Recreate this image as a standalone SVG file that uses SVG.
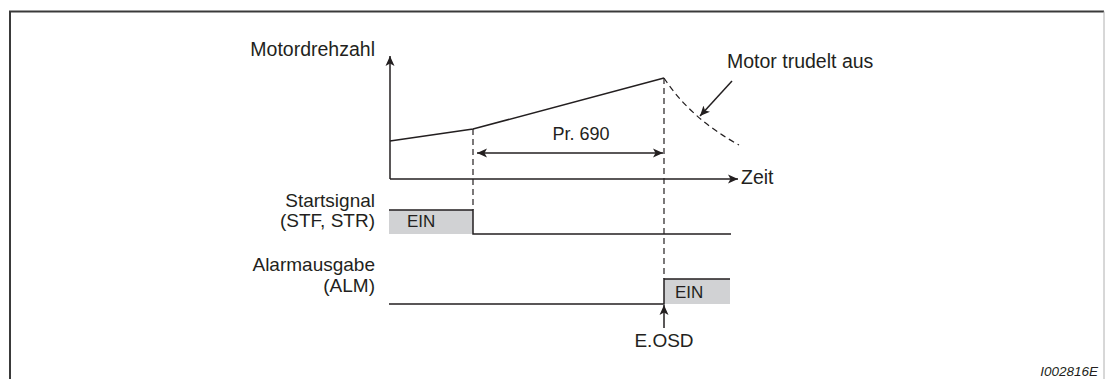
<svg xmlns="http://www.w3.org/2000/svg" width="1105" height="379" viewBox="0 0 1105 379">
<style>
.t{font-family:"Liberation Sans",Arial,sans-serif;fill:#231f20}
.ln{stroke:#231f20;stroke-width:1.5;fill:none}
.ds{stroke:#231f20;stroke-width:1.2;fill:none;stroke-dasharray:6 4}
.sh{fill:#d1d2d4;stroke:none}
</style>
<defs>
<marker id="ah" viewBox="0 0 10 10" refX="10" refY="5" markerWidth="10" markerHeight="10" markerUnits="userSpaceOnUse" orient="auto-start-reverse">
<path d="M0,0.5 L10,5 L0,9.5 L2.5,5 Z" fill="#231f20"/>
</marker>
</defs>
<rect width="1105" height="379" fill="#fff"/>
<g id="frame">
<path d="M10,379 V11.5 H1104" stroke="#3a3a3a" stroke-width="2" fill="none"/>
<path d="M1104,11.5 V379" stroke="#b0b0b0" stroke-width="1" fill="none"/>
</g>
<g id="axes">
<path class="ln" d="M390,179 V56" marker-end="url(#ah)"/>
<path class="ln" d="M390,179 H738" marker-end="url(#ah)"/>
<text class="t" x="375" y="56" font-size="19.5" text-anchor="end">Motordrehzahl</text>
<text class="t" x="741" y="184" font-size="19.5">Zeit</text>
</g>
<g id="speed">
<path class="ln" d="M390,141 L473,129 L664,78"/>
<path class="ds" d="M664,78 Q690,118 739,145"/>
<text class="t" x="727" y="68" font-size="19.5">Motor trudelt aus</text>
</g>
<g id="startsignal">
<rect class="sh" x="389" y="210" width="84" height="24"/>
<path class="ln" d="M389,210 H473 V234 H731"/>
<text class="t" x="375" y="207" font-size="19" text-anchor="end">Startsignal</text>
<text class="t" x="375" y="227" font-size="19" text-anchor="end">(STF, STR)</text>
<text class="t" x="407" y="227" font-size="17">EIN</text>
</g>
<g id="alarm">
<rect class="sh" x="664" y="279" width="66" height="25"/>
<path class="ln" d="M389,304 H664 V279 H730"/>
<text class="t" x="375" y="271" font-size="19" text-anchor="end">Alarmausgabe</text>
<text class="t" x="375" y="292" font-size="19" text-anchor="end">(ALM)</text>
<text class="t" x="675" y="298" font-size="17">EIN</text>
</g>
<g id="connectors">
<path class="ds" d="M473,129 V210"/>
<path class="ds" d="M664,78 V279"/>
<path class="ln" d="M477,153 H663" marker-start="url(#ah)" marker-end="url(#ah)"/>
<path class="ln" d="M732,81 L700,116" marker-end="url(#ah)"/>
<path class="ln" d="M664,328 V305" marker-end="url(#ah)"/>
</g>
<g id="labels">
<text class="t" x="581" y="140" font-size="18" text-anchor="middle">Pr. 690</text>
<text class="t" x="664" y="347" font-size="19" text-anchor="middle">E.OSD</text>
<text class="t" x="1098" y="376" font-size="13.5" font-style="italic" text-anchor="end">I002816E</text>
</g>
</svg>
